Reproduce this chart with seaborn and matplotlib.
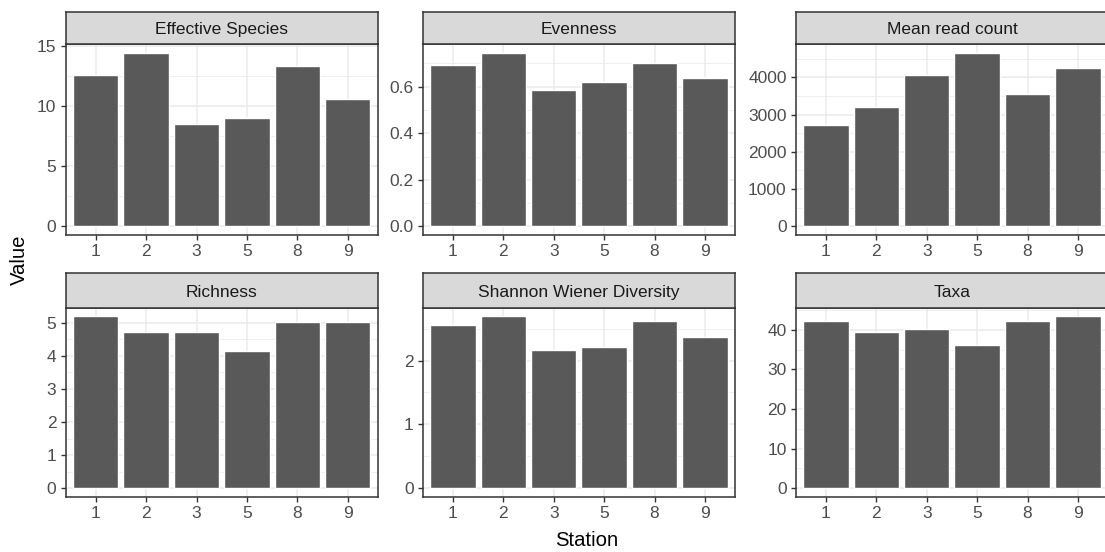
import matplotlib
matplotlib.use("Agg")
import matplotlib.pyplot as plt
from matplotlib.ticker import MultipleLocator, FormatStrFormatter
import seaborn as sns
import pandas as pd

# Diversity metrics per sampling station
stations = ["1", "2", "3", "5", "8", "9"]
metrics = ["Effective Species", "Evenness", "Mean read count",
           "Richness", "Shannon Wiener Diversity", "Taxa"]

effective_species = [12.6, 14.45, 8.56, 9.06, 13.33, 10.64]
evenness = [0.693, 0.745, 0.586, 0.619, 0.700, 0.637]
mean_read_count = [2720, 3195, 4063, 4653, 3544, 4251]
richness = [5.20, 4.71, 4.71, 4.15, 5.02, 5.02]
shannon_wiener = [2.554, 2.694, 2.166, 2.212, 2.622, 2.368]
taxa = [42.3, 39.4, 40.2, 36.1, 42.3, 43.4]

series = [effective_species, evenness, mean_read_count,
          richness, shannon_wiener, taxa]

df = pd.DataFrame(
    [(m, s, v) for m, vals in zip(metrics, series) for s, v in zip(stations, vals)],
    columns=["Metric", "Station", "Value"],
)

# per-panel y tick spacing and label format
y_steps = [5, 0.2, 1000, 1, 1, 10]
y_formats = ["%d", "%.1f", "%d", "%d", "%d", "%d"]

sns.set_theme(style="white")
plt.rcParams["font.family"] = ["Liberation Sans", "DejaVu Sans"]

W, H = 1105, 552
fig = plt.figure(figsize=(W / 100, H / 100), dpi=100)

col_left = [65.5, 422.7, 795.7]
panel_w = 312.5
rows = [(11.7, 44.3, 235.0), (273.3, 307.7, 496.7)]  # strip top, panel top, panel bottom

border = "#333333"
for i, metric in enumerate(metrics):
    r, c = divmod(i, 3)
    strip_top, p_top, p_bot = rows[r]
    x0 = col_left[c]
    ax = fig.add_axes([x0 / W, 1 - p_bot / H, panel_w / W, (p_bot - p_top) / H])
    sub = df[df["Metric"] == metric]
    sns.barplot(data=sub, x="Station", y="Value", order=stations,
                color="#595959", saturation=1, width=0.9, ax=ax,
                errorbar=None, zorder=3)
    vmax = sub["Value"].max()
    ax.set_ylim(-0.05 * vmax, 1.05 * vmax)
    ax.set_xlim(-0.6, len(stations) - 0.4)
    step = y_steps[i]
    ax.yaxis.set_major_locator(MultipleLocator(step))
    ax.yaxis.set_minor_locator(MultipleLocator(step / 2))
    ax.yaxis.set_major_formatter(FormatStrFormatter(y_formats[i]))
    ax.set_facecolor("white")
    ax.grid(True, which="major", color="#EBEBEB", linewidth=1.1, zorder=0)
    ax.grid(True, which="minor", axis="y", color="#EBEBEB", linewidth=0.55, zorder=0)
    ax.set_axisbelow(True)
    for sp in ax.spines.values():
        sp.set_visible(True)
        sp.set_color(border)
        sp.set_linewidth(1.1)
        sp.set_zorder(5)
    ax.tick_params(axis="both", which="major", length=3.6, width=1.0,
                   color=border, labelcolor="#4D4D4D", labelsize=12.5, pad=2.9,
                   bottom=True, left=True, direction="out")
    ax.tick_params(axis="y", which="minor", length=0)
    ax.set_xlabel("")
    ax.set_ylabel("")

    # facet strip
    sax = fig.add_axes([x0 / W, 1 - p_top / H, panel_w / W, (p_top - strip_top) / H])
    sax.set_facecolor("#D9D9D9")
    sax.set_xticks([])
    sax.set_yticks([])
    for sp in sax.spines.values():
        sp.set_visible(True)
        sp.set_color(border)
        sp.set_linewidth(1.1)
    sax.text(0.5, 0.44, metric, transform=sax.transAxes, ha="center", va="center",
             fontsize=12.5, color="#1A1A1A")

fig.text(586.5 / W, 1 - 540 / H, "Station", ha="center", va="center",
         fontsize=14.6, color="black")
fig.text(19.5 / W, 1 - 260 / H, "Value", ha="center", va="center",
         rotation=90, fontsize=14.6, color="black")

fig.savefig("out.png", dpi=100)
